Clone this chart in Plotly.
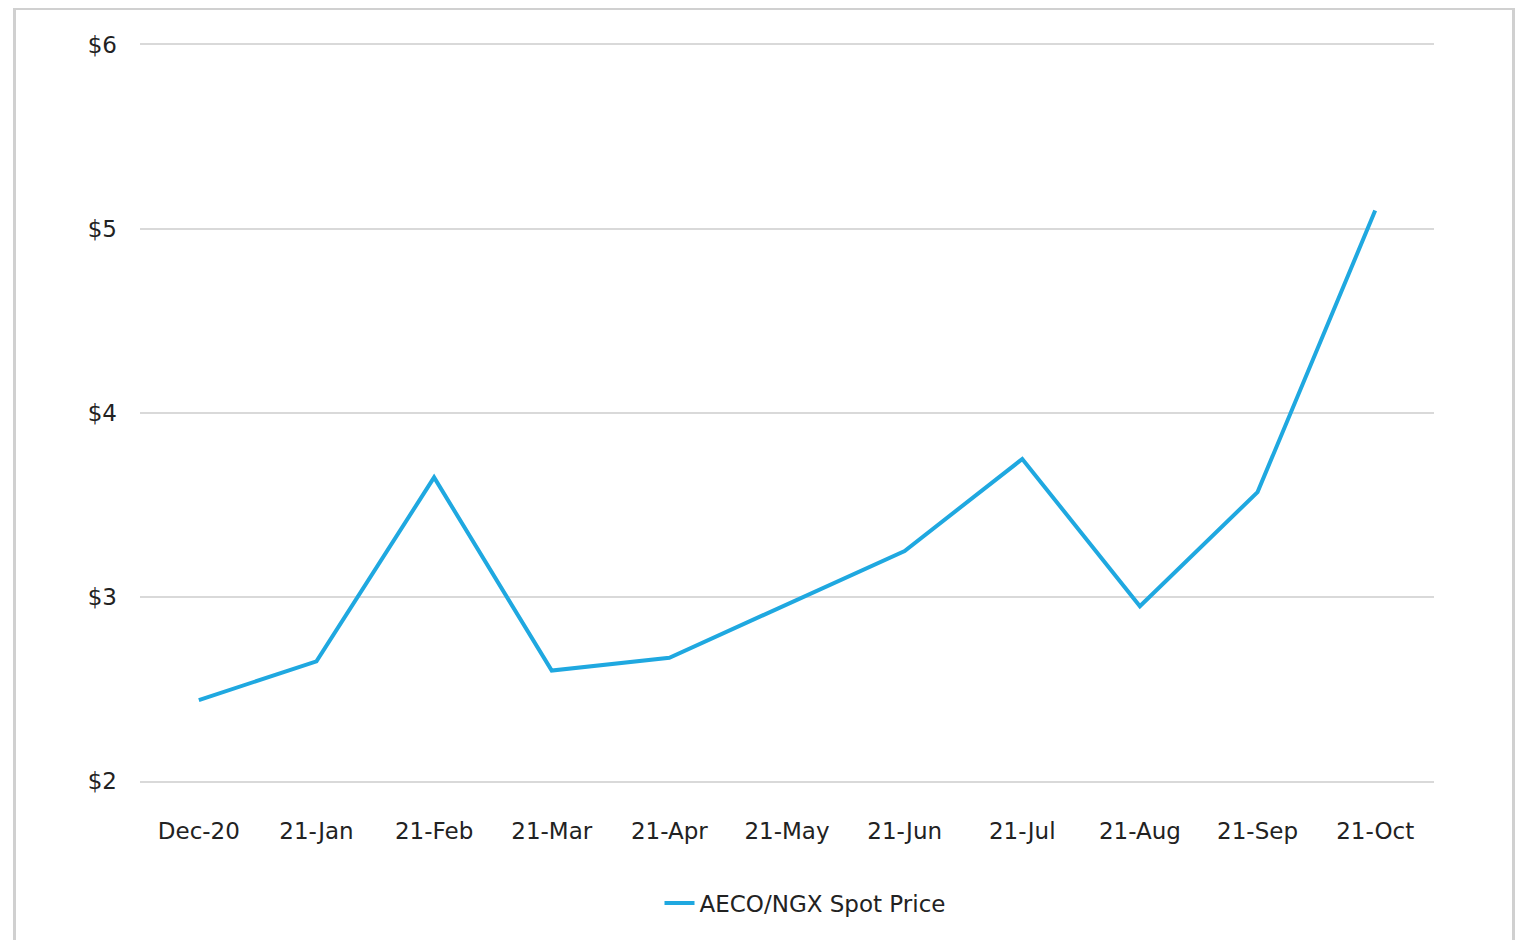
import plotly.graph_objects as go

months = ["Dec-20", "21-Jan", "21-Feb", "21-Mar", "21-Apr", "21-May",
          "21-Jun", "21-Jul", "21-Aug", "21-Sep", "21-Oct"]
spot_price = [2.44, 2.65, 3.65, 2.60, 2.67, 2.96, 3.25, 3.75, 2.95, 3.57, 5.10]

# page has an 8px body margin, so work in figure coords = page - 8
W, H = 1516, 932
L, R, T, B = 132, 90, 37, 159
pw, ph = W - L - R, H - T - B

def px_x(x):
    return (x - L) / pw

def px_y(y):
    return (H - B - y) / ph

font = "'DejaVu Sans', sans-serif"

fig = go.Figure()
fig.add_trace(go.Scatter(
    x=months, y=spot_price, mode="lines", name="AECO/NGX Spot Price",
    line=dict(color="#1fa8e0", width=4),
))

# outer frame
fig.add_shape(type="rect", xref="paper", yref="paper",
              x0=px_x(6.5), x1=px_x(1505.5), y0=px_y(960), y1=px_y(0.5),
              line=dict(color="#d0d0d0", width=3), layer="below")

fig.update_layout(
    width=W, height=H,
    margin=dict(l=L, r=R, t=T, b=B),
    paper_bgcolor="white", plot_bgcolor="white",
    font=dict(family=font, size=23, color="#222222"),
    showlegend=True,
    legend=dict(orientation="h", x=0.5 + 18 / pw, xanchor="center", y=px_y(895),
                yanchor="middle", font=dict(size=23)),
    # top/bottom lines stand in for the $6 and $2 gridlines at the range edges
    xaxis=dict(type="category", range=[-0.5, 10.5], showgrid=False,
               showline=True, linecolor="#d9d9d9", linewidth=1.5, mirror=True,
               ticks="", ticklabelstandoff=29, tickfont=dict(size=23)),
    yaxis=dict(range=[2, 6], dtick=1, tickprefix="$", showgrid=True,
               gridcolor="#d9d9d9", gridwidth=1.5, zeroline=False, showline=False,
               ticks="", ticklabelstandoff=22, tickfont=dict(size=23)),
)

fig.write_html("out.html")
